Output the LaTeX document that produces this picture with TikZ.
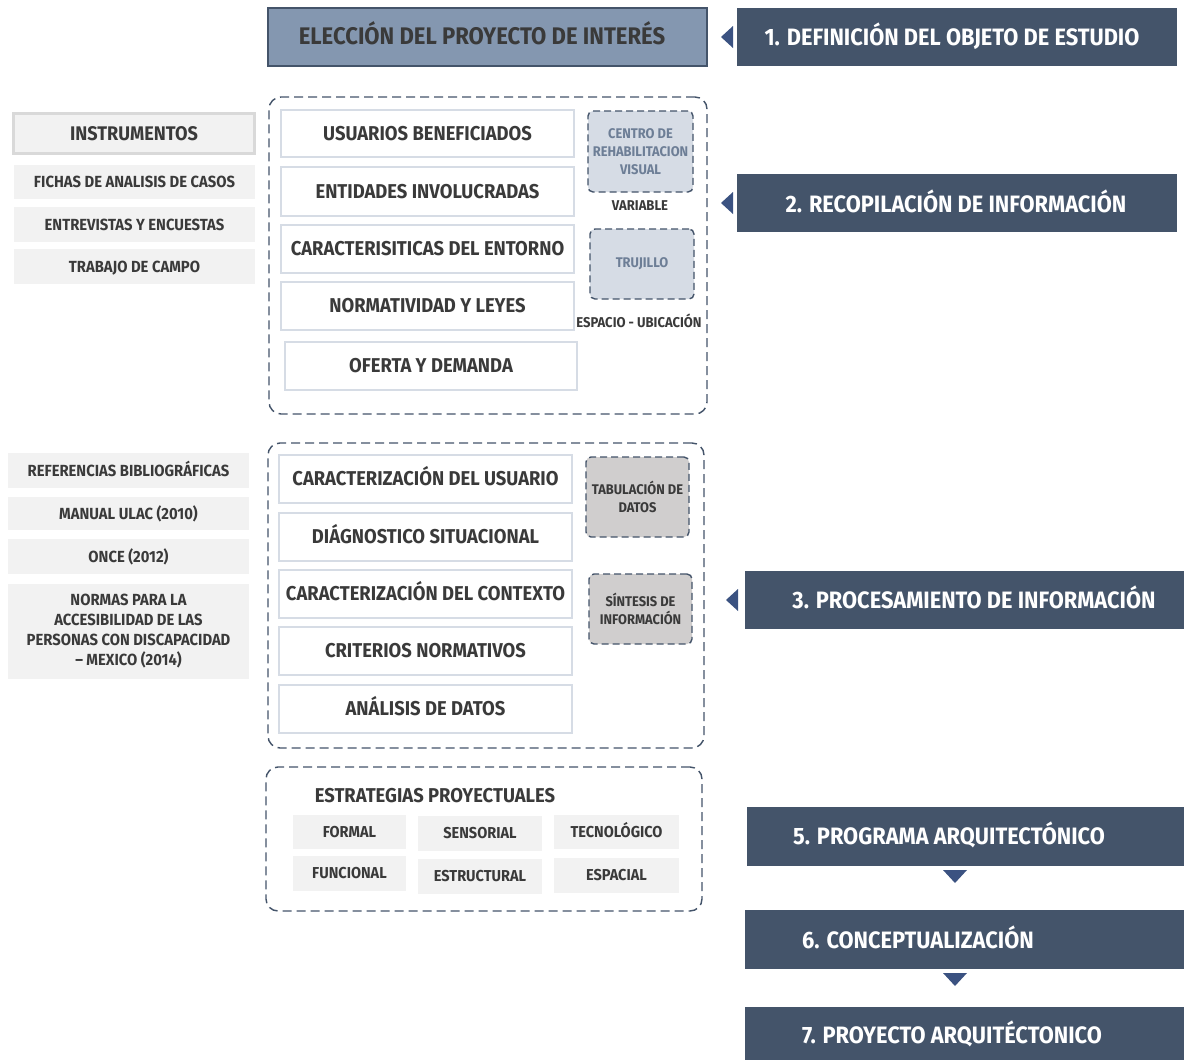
\documentclass[tikz,border=0pt]{standalone}
\usepackage{fontspec}
\setmainfont{Fira Sans}[FakeStretch=0.92]
\usetikzlibrary{calc,backgrounds}
\definecolor{dk}{HTML}{44546A}
\definecolor{topfill}{HTML}{8497B0}
\definecolor{vl}{HTML}{D6DCE5}
\definecolor{lg}{HTML}{F2F2F2}
\definecolor{lgb}{HTML}{D9D9D9}
\definecolor{gfill}{HTML}{D0CECE}
\definecolor{tri}{HTML}{3B5281}
\definecolor{tx}{HTML}{3A3A3A}
\definecolor{ltx}{HTML}{6D7E96}
\tikzset{
  nw/.style={anchor=north west, inner sep=0pt, outer sep=0pt},
  capc/.style={text height=#1, text depth=0pt},
  darkbox/.style={nw, fill=dk, draw=none},
  darktext/.style={capc=16.3pt, inner sep=0pt, text=white, font=\bfseries\fontsize{23.7}{28}\selectfont},
  topbox/.style={nw, fill=topfill, draw=dk, line width=2pt},
  toptext/.style={capc=16.5pt, inner sep=0pt, text=tx, font=\bfseries\fontsize{24}{28}\selectfont},
  whitebox/.style={nw, capc=13.8pt, fill=white, draw=vl, line width=2.5pt, text=tx, font=\bfseries\fontsize{20}{24}\selectfont},
  instbox/.style={nw, capc=13.6pt, fill=lg, draw=lgb, line width=3pt, text=tx, font=\bfseries\fontsize{19.7}{22}\selectfont},
  greybox/.style={nw, fill=lg, draw=none, text=tx, align=center, font=\bfseries\fontsize{16.1}{20}\selectfont},
  stratbox/.style={nw, capc=10.9pt, fill=lg, draw=none, text=tx, font=\bfseries\fontsize{15.8}{18}\selectfont},
  group/.style={nw, draw=dk, line width=1.4pt, dash pattern=on 9pt off 5pt, rounded corners=12pt},
  smalldash/.style={nw, draw=dk, line width=1.4pt, dash pattern=on 7pt off 4pt, rounded corners=5pt, align=center, font=\bfseries\fontsize{14}{18}\selectfont},
  bluedash/.style={smalldash, fill=vl, text=ltx},
  greydash/.style={smalldash, fill=gfill, text=tx},
  smalllabel/.style={capc=9.8pt, inner sep=0pt, text=tx, font=\bfseries\fontsize{14.2}{16}\selectfont},
  vline/.style={draw=vl, line width=6pt},
  tritip/.style={fill=tri}
}
\begin{document}
\begin{tikzpicture}[x=1pt,y=-1pt]
\useasboundingbox (0,0) rectangle (1184,1060);
\fill[white] (0,0) rectangle (1184,1060);

% ---- right column
\node[darkbox, minimum width=440, minimum height=58] (d1) at (737,8) {};
\node[darktext] (d1t) at (952,37) {1. DEFINICIÓN DEL OBJETO DE ESTUDIO};
\node[darkbox, minimum width=440, minimum height=58] (d2) at (737,174) {};
\node[darktext] (d2t) at (956,204) {2. RECOPILACIÓN DE INFORMACIÓN};
\node[darkbox, minimum width=439, minimum height=58] (d3) at (745,571) {};
\node[darktext] (d3t) at (974,600) {3. PROCESAMIENTO DE INFORMACIÓN};
\node[darkbox, minimum width=437, minimum height=59] (d5) at (747,807) {};
\node[darktext] (d5t) at (949,836) {5. PROGRAMA ARQUITECTÓNICO};
\node[darkbox, minimum width=439, minimum height=59] (d6) at (745,910) {};
\node[darktext] (d6t) at (918,940) {6. CONCEPTUALIZACIÓN};
\node[darkbox, minimum width=439, minimum height=56] (d7) at (745,1007) {};
\node[darktext] (d7t) at (952,1035) {7. PROYECTO ARQUITÉCTONICO};

\coordinate (lx) at (957,0);
\begin{scope}[on background layer]
  \draw[vline] (d1.south -| lx) -- (d7.north -| lx);
\end{scope}

% left-pointing markers
\foreach \b/\g in {d1/4,d2/4,d3/7}{
  \fill[tritip] ($(\b.west)+(-\g,-11)$) -- ($(\b.west)+(-\g,11)$) -- ($(\b.west)+(-\g-12,0)$) -- cycle;
}
% down markers
\foreach \b in {d5,d6}{
  \fill[tritip] ($(\b.south -| lx)+(-14,4)$) -- ($(\b.south -| lx)+(10,4)$) -- ($(\b.south -| lx)+(-2,17)$) -- cycle;
}

% ---- top box
\node[topbox, minimum width=439, minimum height=58] (elec) at (268,8) {};
\node[toptext] (elect) at (482,36) {ELECCIÓN DEL PROYECTO DE INTERÉS};

% ---- group 1
\node[group, minimum width=438, minimum height=317] (g1) at (269,97) {};
\node[whitebox, minimum width=293, minimum height=47] (u1) at (281,110) {USUARIOS BENEFICIADOS};
\node[whitebox, minimum width=293, minimum height=49] (u2) at (281,167) {ENTIDADES INVOLUCRADAS};
\node[whitebox, minimum width=293, minimum height=48] (u3) at (281,225) {CARACTERISITICAS DEL ENTORNO};
\node[whitebox, minimum width=293, minimum height=48] (u4) at (281,282) {NORMATIVIDAD Y LEYES};
\node[whitebox, minimum width=292, minimum height=48] (u5) at (285,342) {OFERTA Y DEMANDA};
\node[bluedash, minimum width=105, minimum height=81] (v1) at (588,111) {CENTRO DE\\REHABILITACION\\VISUAL};
\node[smalllabel] (v1l) at (640,206) {VARIABLE};
\node[bluedash, minimum width=104, minimum height=70] (v2) at (590,229) {TRUJILLO};
\node[smalllabel] (v2l) at (639,323) {ESPACIO - UBICACIÓN};

% ---- instruments
\node[instbox, minimum width=241, minimum height=40] (ins) at (13.5,113.5) {INSTRUMENTOS};
\node[greybox, capc=11.1pt, minimum width=241, minimum height=34] (i1) at (14,165) {FICHAS DE ANALISIS DE CASOS};
\node[greybox, capc=11.1pt, minimum width=241, minimum height=35] (i2) at (14,207) {ENTREVISTAS Y ENCUESTAS};
\node[greybox, capc=11.1pt, minimum width=241, minimum height=35] (i3) at (14,249) {TRABAJO DE CAMPO};

% ---- group 2
\node[group, minimum width=436, minimum height=305] (g2) at (268,443) {};
\node[whitebox, minimum width=293, minimum height=48] (p1) at (279,455) {CARACTERIZACIÓN DEL USUARIO};
\node[whitebox, minimum width=293, minimum height=48] (p2) at (279,513) {DIÁGNOSTICO SITUACIONAL};
\node[whitebox, minimum width=293, minimum height=48] (p3) at (279,570) {CARACTERIZACIÓN DEL CONTEXTO};
\node[whitebox, minimum width=293, minimum height=48] (p4) at (279,627) {CRITERIOS NORMATIVOS};
\node[whitebox, minimum width=293, minimum height=48] (p5) at (279,685) {ANÁLISIS DE DATOS};
\node[greydash, minimum width=103, minimum height=80] (s1) at (586,457) {TABULACIÓN DE\\DATOS};
\node[greydash, minimum width=103, minimum height=70] (s2) at (589,574) {SÍNTESIS DE\\INFORMACIÓN};

% ---- references
\node[greybox, capc=11.1pt, minimum width=241, minimum height=35] (r1) at (8,453) {REFERENCIAS BIBLIOGRÁFICAS};
\node[greybox, capc=11.1pt, minimum width=241, minimum height=33] (r2) at (8,497) {MANUAL ULAC (2010)};
\node[greybox, capc=11.1pt, minimum width=241, minimum height=35] (r3) at (8,539) {ONCE (2012)};
\node[greybox, minimum width=241, minimum height=95] (r4) at (8,584) {NORMAS PARA LA\\ACCESIBILIDAD DE LAS\\PERSONAS CON DISCAPACIDAD\\– MEXICO (2014)};

% ---- group 3
\node[group, minimum width=436, minimum height=144] (g3) at (266,767) {};
\node[capc=13.8pt, inner sep=0pt, text=tx, font=\bfseries\fontsize{20}{24}\selectfont] (est) at (435,796) {ESTRATEGIAS PROYECTUALES};
\node[stratbox, minimum width=113, minimum height=34] (e1) at (293,815) {FORMAL};
\node[stratbox, minimum width=124, minimum height=35] (e2) at (418,816) {SENSORIAL};
\node[stratbox, minimum width=125, minimum height=34] (e3) at (554,815) {TECNOLÓGICO};
\node[stratbox, minimum width=113, minimum height=35] (e4) at (293,856) {FUNCIONAL};
\node[stratbox, minimum width=124, minimum height=35] (e5) at (418,859) {ESTRUCTURAL};
\node[stratbox, minimum width=125, minimum height=35] (e6) at (554,858) {ESPACIAL};
\end{tikzpicture}
\end{document}
